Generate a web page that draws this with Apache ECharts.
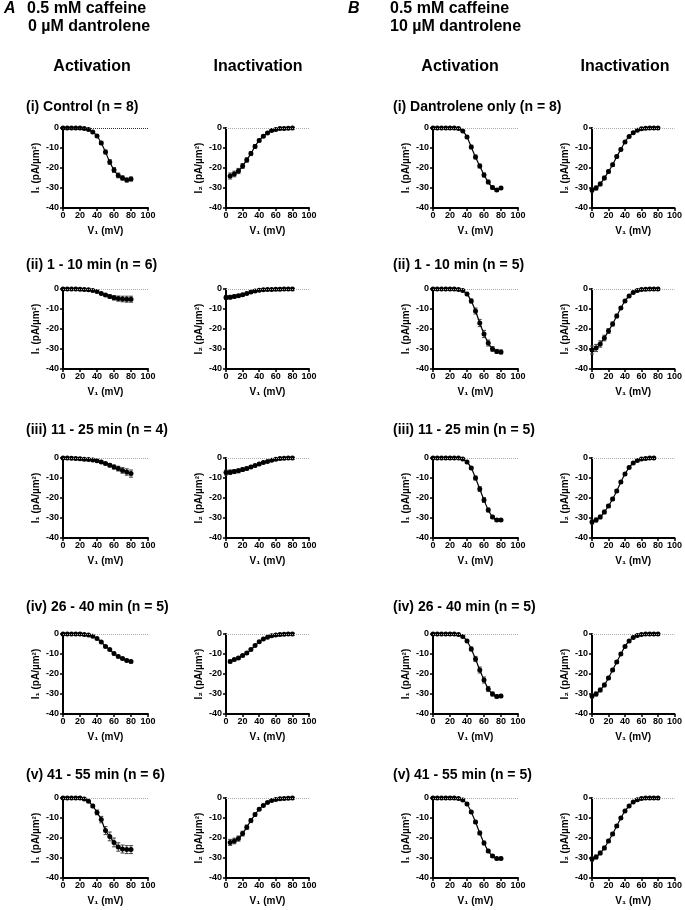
<!DOCTYPE html>
<html><head><meta charset="utf-8">
<script src="https://cdn.jsdelivr.net/npm/echarts@6/dist/echarts.min.js"></script>
<style>html,body{margin:0;padding:0;background:#fff}#c{width:685px;height:910px}</style>
</head><body><div id="c"></div>
<script>
// ---- x values (mV) ----
const x0to80 = [0,5,10,15,20,25,30,35,40,45,50,55,60,65,70,75,80];
const x5to80 = [5,10,15,20,25,30,35,40,45,50,55,60,65,70,75,80];
const x0to75 = [0,5,10,15,20,25,30,35,40,45,50,55,60,65,70,75];
const xTicks = [0,20,40,60,80,100];
const yTicks = [0,-10,-20,-30,-40];

// ---- A: 0.5 mM caffeine, 0 uM dantrolene ----
const aActI = [0,0,0,0,0,-0.2,-0.8,-2,-4,-7.5,-12,-17,-21,-23.7,-25,-26,-25.5];
const aActIErr = [0,0,0,0,0,0.1,0.2,0.4,0.6,0.8,1,1.2,1.2,1.2,1.1,1,1];
const aInactI = [-24,-23,-21.5,-19,-16,-12.8,-9.2,-6.2,-4.1,-2.5,-1.3,-0.7,-0.3,-0.2,-0.1,0];
const aInactIErr = [1.5,1.4,1.3,1.2,1.1,1,0.9,0.7,0.5,0.4,0.3,0.2,0.1,0.1,0,0];
const aActII = [0,0,0,0,-0.1,-0.2,-0.4,-0.7,-1.3,-2.2,-3,-3.8,-4.4,-4.8,-5,-5.1,-5.1];
const aActIIErr = [0,0,0,0,0,0.1,0.1,0.2,0.3,0.5,0.7,0.9,1.1,1.3,1.4,1.5,1.5];
const aInactII = [-4.2,-4.1,-3.8,-3.4,-2.9,-2.2,-1.5,-1,-0.6,-0.4,-0.3,-0.2,-0.1,-0.1,0,0,0];
const aInactIIErr = [1,0.9,0.8,0.7,0.6,0.5,0.4,0.3,0.2,0.2,0.1,0.1,0,0,0,0,0];
const aActIII = [0,0,-0.1,-0.2,-0.4,-0.6,-0.8,-1,-1.4,-2,-2.8,-3.6,-4.5,-5.3,-6.2,-7,-7.8];
const aActIIIErr = [0,0,0,0.1,0.1,0.2,0.3,0.3,0.4,0.5,0.6,0.8,1,1.2,1.4,1.6,1.8];
const aInactIII = [-7.3,-7.1,-6.8,-6.4,-5.8,-5.2,-4.5,-3.8,-3,-2.3,-1.7,-1.1,-0.6,-0.3,-0.1,0,0];
const aInactIIIErr = [1.2,1.1,1,1,0.9,0.8,0.7,0.6,0.5,0.4,0.3,0.2,0.1,0.1,0,0,0];
const aActIV = [0,0,0,0,0,-0.2,-0.5,-1.1,-2.3,-4,-6.2,-7.8,-9.8,-11.2,-12.3,-13.2,-13.8];
const aActIVErr = [0,0,0,0,0,0,0.1,0.1,0.2,0.3,0.4,0.5,0.6,0.6,0.6,0.6,0.6];
const aInactIV = [-13.7,-12.8,-12,-10.8,-9.5,-7.8,-5.8,-3.9,-2.5,-1.6,-0.9,-0.5,-0.2,-0.1,0,0];
const aInactIVErr = [0.7,0.6,0.6,0.6,0.5,0.5,0.4,0.3,0.2,0.2,0.1,0.1,0,0,0,0];
const aActV = [0,0,0,0,0,-0.5,-1.6,-4,-7.2,-10.8,-16.3,-19.2,-22.2,-24.5,-25.5,-25.8,-25.8];
const aActVErr = [0,0,0,0,0,0.2,0.4,0.8,1.2,1.6,2,2.2,2.2,2.1,2,2,2];
const aInactV = [-22.2,-21.5,-20.3,-17.8,-14.6,-11.3,-8.3,-5.6,-3.7,-2.2,-1.3,-0.8,-0.4,-0.2,-0.1,0];
const aInactVErr = [1.5,1.4,1.3,1.2,1.1,1,0.8,0.6,0.5,0.4,0.3,0.2,0.1,0.1,0,0];

// ---- B: 0.5 mM caffeine, 10 uM dantrolene ----
const bActI = [0,0,0,0,0,0,-0.3,-1.5,-4.5,-9.5,-14.5,-19,-23.5,-27,-29.8,-31,-30];
const bActIErr = [0,0,0,0,0,0,0.1,0.3,0.6,0.9,1,1,1,0.9,0.8,0.7,0.7];
const bInactI = [-31,-30,-28,-25,-21.8,-18.4,-14.3,-10.7,-7,-4.2,-2.4,-1.1,-0.4,-0.1,0,0,0];
const bInactIErr = [1,1,0.9,0.9,0.8,0.8,0.7,0.6,0.5,0.4,0.3,0.2,0.1,0,0,0,0];
const bActII = [0,0,0,0,0,0,-0.2,-0.8,-2.5,-6,-11,-17,-22.5,-27,-30,-31.2,-31.5];
const bActIIErr = [0,0,0,0,0,0,0.1,0.3,0.6,1,1.5,1.8,1.8,1.5,1.2,1,1];
const bInactII = [-30.5,-29.5,-27.5,-24.5,-21,-17.5,-13.5,-9.5,-6,-3.5,-1.8,-0.8,-0.3,-0.1,0,0,0];
const bInactIIErr = [2,1.8,1.6,1.4,1.2,1,0.9,0.7,0.5,0.4,0.3,0.2,0.1,0,0,0,0];
const bActIII = [0,0,0,0,0,0,0,-0.5,-2,-5,-10,-15.5,-21,-26,-29.5,-31,-31];
const bActIIIErr = [0,0,0,0,0,0,0,0.2,0.4,0.7,1,1.2,1.2,1,0.8,0.7,0.7];
const bInactIII = [-32,-31,-29.5,-27,-24,-20.5,-16.5,-12,-8,-4.8,-2.5,-1.2,-0.5,-0.2,0,0];
const bInactIIIErr = [1,1,0.9,0.9,0.8,0.8,0.7,0.6,0.5,0.4,0.3,0.2,0.1,0,0,0];
const bActIV = [0,0,0,0,0,0,-0.3,-1.2,-3.5,-7.5,-12.5,-18,-23,-27.5,-30,-31.2,-31];
const bActIVErr = [0,0,0,0,0,0,0.1,0.3,0.6,1,1.3,1.5,1.5,1.3,1,0.8,0.8];
const bInactIV = [-31,-30,-28,-25.5,-22,-18,-14,-10,-6.2,-3.5,-1.7,-0.7,-0.2,0,0,0,0];
const bInactIVErr = [1,1,0.9,0.9,0.8,0.8,0.7,0.6,0.5,0.4,0.3,0.2,0.1,0,0,0,0];
const bActV = [0,0,0,0,0,0,-0.2,-1,-3,-7,-12,-17.5,-22.5,-26.5,-29,-30.3,-30.2];
const bActVErr = [0,0,0,0,0,0,0.1,0.2,0.4,0.6,0.8,0.9,0.9,0.8,0.7,0.6,0.6];
const bInactV = [-30.5,-29.5,-27.5,-25,-21.5,-18,-14,-10,-6.5,-4,-2,-0.9,-0.3,0,0,0,0];
const bInactVErr = [1,1,0.9,0.9,0.8,0.8,0.7,0.6,0.5,0.4,0.3,0.2,0.1,0,0,0,0];

// ---- layout ----
const FONT = "'Liberation Sans', Arial, sans-serif";
const rowTop = [128, 289, 458, 634, 798];
const colLeft = [63, 226, 433, 592];
const colWidth = [85, 83, 85, 83];
const panels = [
  // [col,row,x,y,err,yname,darkZero]
  [0,0,x0to80,aActI,aActIErr,1,true],[1,0,x5to80,aInactI,aInactIErr,2,false],
  [0,1,x0to80,aActII,aActIIErr,1,false],[1,1,x0to80,aInactII,aInactIIErr,2,false],
  [0,2,x0to80,aActIII,aActIIIErr,1,false],[1,2,x0to80,aInactIII,aInactIIIErr,2,false],
  [0,3,x0to80,aActIV,aActIVErr,1,false],[1,3,x5to80,aInactIV,aInactIVErr,2,false],
  [0,4,x0to80,aActV,aActVErr,1,false],[1,4,x5to80,aInactV,aInactVErr,2,false],
  [2,0,x0to80,bActI,bActIErr,1,false],[3,0,x0to80,bInactI,bInactIErr,2,false],
  [2,1,x0to80,bActII,bActIIErr,1,false],[3,1,x0to80,bInactII,bInactIIErr,2,false],
  [2,2,x0to80,bActIII,bActIIIErr,1,false],[3,2,x0to75,bInactIII,bInactIIIErr,2,false],
  [2,3,x0to80,bActIV,bActIVErr,1,false],[3,3,x0to80,bInactIV,bInactIVErr,2,false],
  [2,4,x0to80,bActV,bActVErr,1,false],[3,4,x0to80,bInactV,bInactVErr,2,false]
];

const grids=[], xAxes=[], yAxes=[], series=[];
panels.forEach((p,i)=>{
  const [c,r,xs,ys,es,sub,dark]=p;
  grids.push({left:colLeft[c], top:rowTop[r], width:colWidth[c], height:80});
  xAxes.push({gridIndex:i, type:'value', min:0, max:100, interval:20,
    name:'V\u2081 (mV)', nameLocation:'middle', nameGap:18,
    nameTextStyle:{fontFamily:FONT, fontWeight:'bold', fontSize:10, color:'#000'},
    axisLine:{onZero:false, lineStyle:{color:'#000', width:2}},
    axisTick:{length:3, lineStyle:{color:'#000', width:1.5}},
    axisLabel:{fontFamily:FONT, fontWeight:'bold', fontSize:9, color:'#000', margin:3},
    splitLine:{show:false}});
  yAxes.push({gridIndex:i, type:'value', min:-40, max:0, interval:10,
    name:(sub===1?'I\u2081':'I\u2082')+' (pA/\u00b5m\u00b2)', nameLocation:'middle', nameGap:22, nameRotate:90,
    nameTextStyle:{fontFamily:FONT, fontWeight:'bold', fontSize:10, color:'#000'},
    axisLine:{onZero:false, lineStyle:{color:'#000', width:2}},
    axisTick:{length:3, lineStyle:{color:'#000', width:1.5}},
    axisLabel:{fontFamily:FONT, fontWeight:'bold', fontSize:9, color:'#000', margin:4},
    splitLine:{show:false}});
  const data = xs.map((x,k)=>[x, ys[k]]);
  series.push({type:'line', xAxisIndex:i, yAxisIndex:i, data:data, smooth:0.3, clip:false,
    symbol:'circle', symbolSize:5, itemStyle:{color:'#000'}, lineStyle:{color:'#000', width:1.2},
    z:3,
    markLine:{silent:true, symbol:'none', label:{show:false},
      lineStyle:{color: dark?'#333':'#aaa', type:'dotted', width:1},
      data:[{yAxis:0}]}});
  series.push({type:'custom', xAxisIndex:i, yAxisIndex:i, clip:false, z:2,
    data: xs.map((x,k)=>[x, ys[k], es[k]]),
    renderItem:(params, api)=>{
      const x=api.value(0), y=api.value(1), e=api.value(2);
      const a=api.coord([x,y+e]), b=api.coord([x,y-e]);
      const st={stroke:'#444', lineWidth:1};
      return {type:'group', children:[
        {type:'line', shape:{x1:a[0],y1:a[1],x2:b[0],y2:b[1]}, style:st},
        {type:'line', shape:{x1:a[0]-2,y1:a[1],x2:a[0]+2,y2:a[1]}, style:st},
        {type:'line', shape:{x1:b[0]-2,y1:b[1],x2:b[0]+2,y2:b[1]}, style:st}]};
    }});
});

function txt(t, x, y, size, opts){
  opts = opts||{};
  return {type:'text', x:x, y:y, silent:true, style:{text:t, fill:'#000',
    font:(opts.italic?'italic ':'')+'bold '+size+'px '+FONT,
    textAlign:opts.align||'left', textVerticalAlign:'middle'}};
}
const graphics = [
  txt('A',4,9,16,{italic:true}), txt('0.5 mM caffeine',27,9,16), txt('0 \u00b5M dantrolene',28,27,16),
  txt('B',348,9,16,{italic:true}), txt('0.5 mM caffeine',390,9,16), txt('10 \u00b5M dantrolene',390,27,16),
  txt('Activation',92,67,16,{align:'center'}), txt('Inactivation',258,67,16,{align:'center'}),
  txt('Activation',460,67,16,{align:'center'}), txt('Inactivation',625,67,16,{align:'center'}),
  txt('(i) Control (n = 8)',26,107,14), txt('(ii) 1 - 10 min (n = 6)',26,265,14),
  txt('(iii) 11 - 25 min (n = 4)',26,430,14), txt('(iv) 26 - 40 min (n = 5)',26,607,14),
  txt('(v) 41 - 55 min (n = 6)',26,775,14),
  txt('(i) Dantrolene only (n = 8)',393,107,14), txt('(ii) 1 - 10 min (n = 5)',393,265,14),
  txt('(iii) 11 - 25 min (n = 5)',393,430,14), txt('(iv) 26 - 40 min (n = 5)',393,607,14),
  txt('(v) 41 - 55 min (n = 5)',393,775,14)
];

const chart = echarts.init(document.getElementById('c'), null, {renderer:'canvas'});
chart.setOption({animation:false, backgroundColor:'#fff', grid:grids, xAxis:xAxes, yAxis:yAxes,
  series:series, graphic:graphics});
</script></body></html>
